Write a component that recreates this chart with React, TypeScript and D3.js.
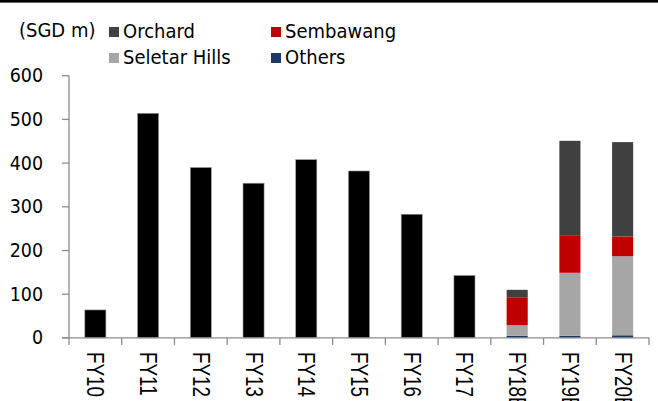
import React from 'react';
import * as d3 from 'd3';

const categories = ['FY10', 'FY11', 'FY12', 'FY13', 'FY14', 'FY15', 'FY16', 'FY17', 'FY18E', 'FY19E', 'FY20E'];
const totals = [64, 514, 390, 354, 408, 382, 283, 143, 0, 0, 0];
const others = [0, 0, 0, 0, 0, 0, 0, 0, 5, 5, 6];
const seletarHills = [0, 0, 0, 0, 0, 0, 0, 0, 24, 144, 181];
const sembawang = [0, 0, 0, 0, 0, 0, 0, 0, 64, 86, 45];
const orchard = [0, 0, 0, 0, 0, 0, 0, 0, 17, 216, 216];
const yTicks = [0, 100, 200, 300, 400, 500, 600];
const stackKeys = ['Others', 'Seletar Hills', 'Sembawang', 'Orchard'];
const colors: Record<string, string> = {
  Total: '#000000',
  Orchard: '#404040',
  Sembawang: '#c00000',
  'Seletar Hills': '#a6a6a6',
  Others: '#1f3864',
};
const legendRows = [
  ['Orchard', 'Sembawang'],
  ['Seletar Hills', 'Others'],
];

const W = 658;
const H = 401;
const FONT = 'DejaVu Sans, Verdana, sans-serif';

export default function App() {
  const table = categories.map((c, i) => ({
    cat: c,
    Total: totals[i],
    Others: others[i],
    'Seletar Hills': seletarHills[i],
    Sembawang: sembawang[i],
    Orchard: orchard[i],
  }));
  const x = d3.scaleBand<string>().domain(categories).range([69, 649]).paddingInner(0.6).paddingOuter(0.3);
  const y = d3.scaleLinear().domain([0, 600]).range([337.9, 75.7]);
  const stacked = d3.stack<any>().keys(stackKeys)(table);
  const step = x.step();
  const x0 = x.range()[0];
  const bw = x.bandwidth();
  const axisColor = '#8c8c8c';

  return (
    <svg width={W} height={H} style={{ position: 'absolute', left: 0, top: 0, background: '#fff' }}>
      <rect x={0} y={0} width={W} height={2.6} fill="#000" />
      {/* black total bars */}
      {table.filter((d) => d.Total > 0).map((d) => (
        <rect key={d.cat} x={x(d.cat)} y={y(d.Total)} width={bw} height={y(0) - y(d.Total)}
          fill={colors.Total} stroke="#a0a0a0" strokeWidth={0.6} />
      ))}
      {/* stacked bars */}
      {stacked.map((s) => (
        <g key={s.key}>
          {s.filter((p) => p[1] - p[0] > 0).map((p) => (
            <rect key={p.data.cat} x={x(p.data.cat)} y={y(p[1])} width={bw} height={y(p[0]) - y(p[1])}
              fill={colors[s.key]} />
          ))}
        </g>
      ))}
      {/* y axis */}
      <line x1={69} x2={69} y1={y(600)} y2={y(0)} stroke={axisColor} strokeWidth={1.3} />
      {yTicks.map((t) => (
        <g key={t}>
          <line x1={62} x2={69} y1={y(t)} y2={y(t)} stroke={axisColor} strokeWidth={1.3} />
          <text transform={`translate(43, ${y(t) + 6.5}) scale(0.97,1.08)`} textAnchor="end" fontFamily={FONT} fontSize={18} fill="#000">{t}</text>
        </g>
      ))}
      {/* x axis */}
      <line x1={62} x2={649.5} y1={y(0)} y2={y(0)} stroke={axisColor} strokeWidth={1.3} />
      {d3.range(categories.length + 1).map((i) => (
        <line key={i} x1={x0 + i * step} x2={x0 + i * step} y1={y(0)} y2={y(0) + 7} stroke={axisColor} strokeWidth={1.3} />
      ))}
      {categories.map((c) => (
        <text key={c} transform={`translate(${(x(c) as number) + bw / 2 - 8}, 352) rotate(90) scale(0.82,1)`}
          fontFamily="Liberation Sans, Arial, sans-serif" fontSize={23} fill="#000">{c}</text>
      ))}
      {/* unit label */}
      <text transform="translate(19, 37) scale(1,1.1)" fontFamily={FONT} fontSize={18} fill="#000">(SGD m)</text>
      {/* legend */}
      {legendRows.map((row, r) =>
        row.map((name, k) => {
          const lx = k === 0 ? 109 : 271;
          const ly = 27 + r * 26;
          return (
            <g key={name}>
              <rect x={lx} y={ly} width={10} height={10} fill={colors[name]} />
              <text transform={`translate(${lx + 14}, ${ly + 10.5}) scale(1,1.12)`} fontFamily={FONT} fontSize={18} fill="#000">{name}</text>
            </g>
          );
        })
      )}
    </svg>
  );
}
